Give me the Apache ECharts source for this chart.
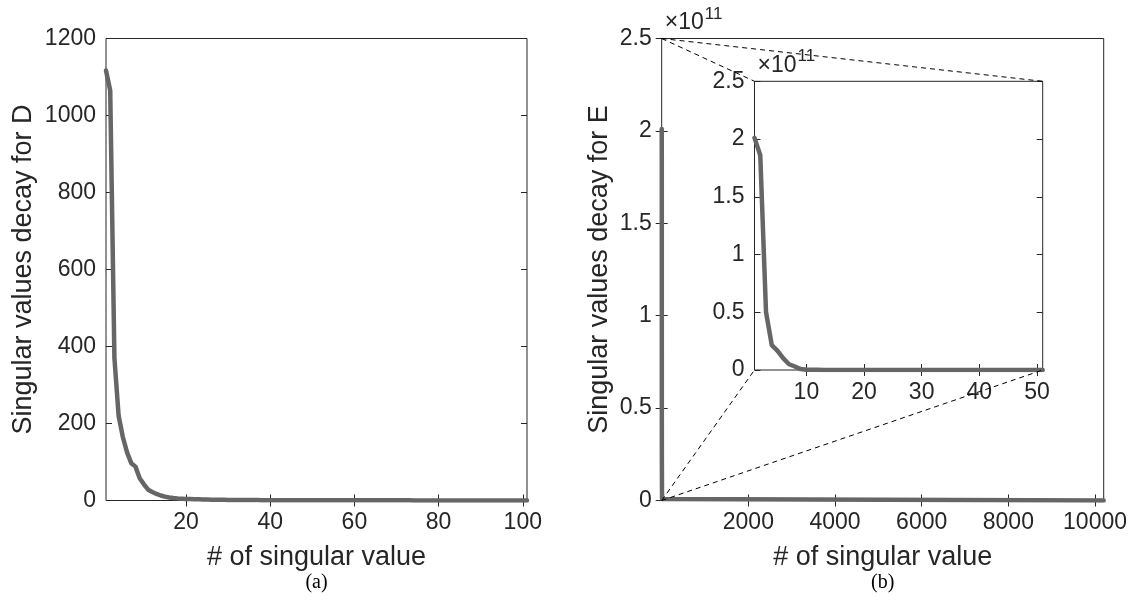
<!DOCTYPE html>
<html>
<head>
<meta charset="utf-8">
<script src="https://cdn.jsdelivr.net/npm/echarts@6/dist/echarts.min.js"></script>
<style>
html,body{margin:0;padding:0;background:#fff;}
#c{width:1135px;height:613px;}
</style>
</head>
<body>
<div id="c"></div>
<script>
// ---- Data ----
// (a) singular values of D, index 1..101
const dValues = [1117,1065,370,220,165,125,97,88,58,42,28,22,17,13,10,8,6.5,5.5,4.8,4.2,
  3.8,3.4,3.0,2.7,2.4,2.2,2.0,1.8,1.7,1.6,1.5,1.4,1.3,1.2,1.1,1.05,1.0,0.95,0.9,0.85,
  0.8,0.78,0.76,0.74,0.72,0.70,0.68,0.66,0.64,0.62,0.60,0.58,0.56,0.54,0.52,0.50,0.49,0.48,0.47,0.46,
  0.45,0.44,0.43,0.42,0.41,0.40,0.39,0.38,0.37,0.36,0.35,0.34,0.33,0.32,0.31,0.30,0.29,0.28,0.27,0.26,
  0.25,0.24,0.23,0.22,0.21,0.20,0.19,0.18,0.17,0.16,0.15,0.14,0.13,0.12,0.11,0.10,0.09,0.08,0.07,0.06,0.05];
// (b) singular values of E, first 51 (index 1..51)
const eValues = [2.01e11,1.86e11,0.50e11,0.215e11,0.165e11,0.10e11,0.05e11,0.03e11,0.008e11,0.003e11,
  0.002e11,0.0015e11,0.001e11,0.0009e11,0.0008e11,0.0007e11,0.0006e11,0.0005e11,0.0005e11,0.0004e11,
  0.0004e11,0.0004e11,0.0003e11,0.0003e11,0.0003e11,0.0003e11,0.0002e11,0.0002e11,0.0002e11,0.0002e11,
  0.0002e11,0.0002e11,0.0002e11,0.0001e11,0.0001e11,0.0001e11,0.0001e11,0.0001e11,0.0001e11,0.0001e11,
  0.0001e11,0.0001e11,0.0001e11,0.0001e11,0.0001e11,0.0001e11,0.0001e11,0.0001e11,0.0001e11,0.0001e11,0.0001e11];
// tail of E (last singular value)
const eTailIndex = [10200];
const eTailValue = [0];

const dXTicks = [20,40,60,80,100];
const dYTicks = [0,200,400,600,800,1000,1200];
const eXTicks = [2000,4000,6000,8000,10000];
const eYTicks = [0,0.5e11,1e11,1.5e11,2e11,2.5e11];
const insetXTicks = [10,20,30,40,50];

const xTitle = '# of singular value';
const yTitleD = 'Singular values decay for D';
const yTitleE = 'Singular values decay for E';
const captions = ['(a)','(b)'];
const expoBase = '×10';
const expoPower = '11';

// ---- build ----
const dPairs = dValues.map((v,i)=>[i+1,v]);
const ePairs = eValues.map((v,i)=>[i+1,v]);
const eMainPairs = ePairs.concat(eTailIndex.map((x,i)=>[x,eTailValue[i]]));

const TXT = '#262626';
const FONT = '"Liberation Sans", Arial, Helvetica, sans-serif';
const TICK_FS = 23;
const fmtPlain = v => String(v);
const fmtE = v => String(+(v/1e11).toFixed(2));

function tickCfg(vals){ return {show:true, inside:true, length:6, customValues:vals, lineStyle:{color:TXT,width:1}}; }

function xAx(g, min, max, ticks, opts){
  return Object.assign({
    type:'value', gridIndex:g, min:min, max:max, position:'bottom',
    axisLine:{show:false}, splitLine:{show:false},
    axisTick:tickCfg(ticks),
    axisLabel:{show:true, customValues:ticks, formatter:fmtPlain, color:TXT, fontSize:TICK_FS, fontFamily:FONT, margin:11}
  }, opts||{});
}
function yAx(g, min, max, ticks, fmt, opts){
  return Object.assign({
    type:'value', gridIndex:g, min:min, max:max, position:'left',
    axisLine:{show:false}, splitLine:{show:false},
    axisTick:tickCfg(ticks),
    axisLabel:{show:true, customValues:ticks, formatter:fmt, color:TXT, fontSize:TICK_FS, fontFamily:FONT, margin:10}
  }, opts||{});
}
function mirrorX(g,min,max,ticks){
  return {type:'value', gridIndex:g, min:min, max:max, position:'top',
    axisLine:{show:false}, splitLine:{show:false}, axisLabel:{show:false}, axisTick:tickCfg(ticks)};
}
function mirrorY(g,min,max,ticks){
  return {type:'value', gridIndex:g, min:min, max:max, position:'right',
    axisLine:{show:false}, splitLine:{show:false}, axisLabel:{show:false}, axisTick:tickCfg(ticks)};
}

const nameStyle = {color:TXT, fontSize:27, fontFamily:FONT};
const gridBase = {show:true, backgroundColor:'#fff', borderColor:TXT, borderWidth:1, containLabel:false, outerBoundsMode:'none'};

const option = {
  animation:false,
  backgroundColor:'#fff',
  grid:[
    Object.assign({left:106, top:38.5, width:421, height:462}, gridBase),
    Object.assign({left:661.7, top:38.5, width:442, height:462}, gridBase),
    Object.assign({left:754.5, top:81.3, width:288.2, height:288.7}, gridBase)
  ],
  xAxis:[
    xAx(0,1,101,dXTicks,{name:xTitle, nameLocation:'middle', nameGap:44, nameTextStyle:nameStyle}),
    xAx(1,0,10200,eXTicks,{name:xTitle, nameLocation:'middle', nameGap:44, nameTextStyle:nameStyle}),
    xAx(2,1,51,insetXTicks),
    mirrorX(0,1,101,dXTicks),
    mirrorX(1,0,10200,eXTicks),
    mirrorX(2,1,51,insetXTicks)
  ],
  yAxis:[
    yAx(0,0,1200,dYTicks,fmtPlain,{name:yTitleD, nameLocation:'middle', nameGap:69, nameTextStyle:nameStyle}),
    yAx(1,0,2.5e11,eYTicks,fmtE,{name:yTitleE, nameLocation:'middle', nameGap:49, nameTextStyle:nameStyle}),
    yAx(2,0,2.5e11,eYTicks,fmtE),
    mirrorY(0,0,1200,dYTicks),
    mirrorY(1,0,2.5e11,eYTicks),
    mirrorY(2,0,2.5e11,eYTicks)
  ],
  series:[
    {type:'line', xAxisIndex:0, yAxisIndex:0, data:dPairs, showSymbol:false, symbol:'none',
     lineStyle:{color:'#666666', width:4.5, join:'round', cap:'round'}, z:5},
    {type:'line', xAxisIndex:1, yAxisIndex:1, data:eMainPairs, showSymbol:false, symbol:'none',
     lineStyle:{color:'#666666', width:4.5, join:'round', cap:'round'}, z:5},
    {type:'line', xAxisIndex:2, yAxisIndex:2, data:ePairs, showSymbol:false, symbol:'none',
     lineStyle:{color:'#666666', width:4.5, join:'round', cap:'round'}, z:5}
  ]
};

const chart = echarts.init(document.getElementById('c'), null, {renderer:'canvas'});
chart.setOption(option);

// overlays: zoom connector lines, exponent labels, captions
const P = (xi, yi, pt) => chart.convertToPixel({xAxisIndex:xi, yAxisIndex:yi}, pt);
const mTL = P(1,1,[0,2.5e11]), mBL = P(1,1,[0,0]);
const iTL = P(2,2,[1,2.5e11]), iTR = P(2,2,[51,2.5e11]), iBL = P(2,2,[1,0]), iBR = P(2,2,[51,0]);
const dash = (a,b) => ({type:'line', z:10, silent:true,
  shape:{x1:a[0],y1:a[1],x2:b[0],y2:b[1]},
  style:{stroke:'#000', lineWidth:1, lineDash:[5,4]}});
const mctx = document.createElement('canvas').getContext('2d');
mctx.font = '23px ' + FONT;
const baseW = mctx.measureText(expoBase).width;
function expo(corner){
  return [
    {type:'text', z:10, x:corner[0]+3, y:corner[1]-4.5,
     style:{text:expoBase, fill:TXT, font:'23px '+FONT, textAlign:'left', textVerticalAlign:'bottom', verticalAlign:'bottom'}},
    {type:'text', z:10, x:corner[0]+4+baseW, y:corner[1]-16,
     style:{text:expoPower, fill:TXT, font:'17px '+FONT, textAlign:'left', textVerticalAlign:'bottom', verticalAlign:'bottom'}}
  ];
}
const dCenter = P(0,0,[51,0])[0];
const eCenter = P(1,1,[5100,0])[0];
chart.setOption({graphic:[
  dash(mTL,iTL), dash(mTL,iTR), dash(mBL,iBL), dash(mBL,iBR),
  ...expo(mTL), ...expo(iTL),
  {type:'text', z:10, x:dCenter, y:583, style:{text:captions[0], fill:'#000', font:'20px "Liberation Serif", "DejaVu Serif", serif', textAlign:'center', textVerticalAlign:'middle', verticalAlign:'middle'}},
  {type:'text', z:10, x:eCenter, y:583, style:{text:captions[1], fill:'#000', font:'20px "Liberation Serif", "DejaVu Serif", serif', textAlign:'center', textVerticalAlign:'middle', verticalAlign:'middle'}}
]});
</script>
</body>
</html>
